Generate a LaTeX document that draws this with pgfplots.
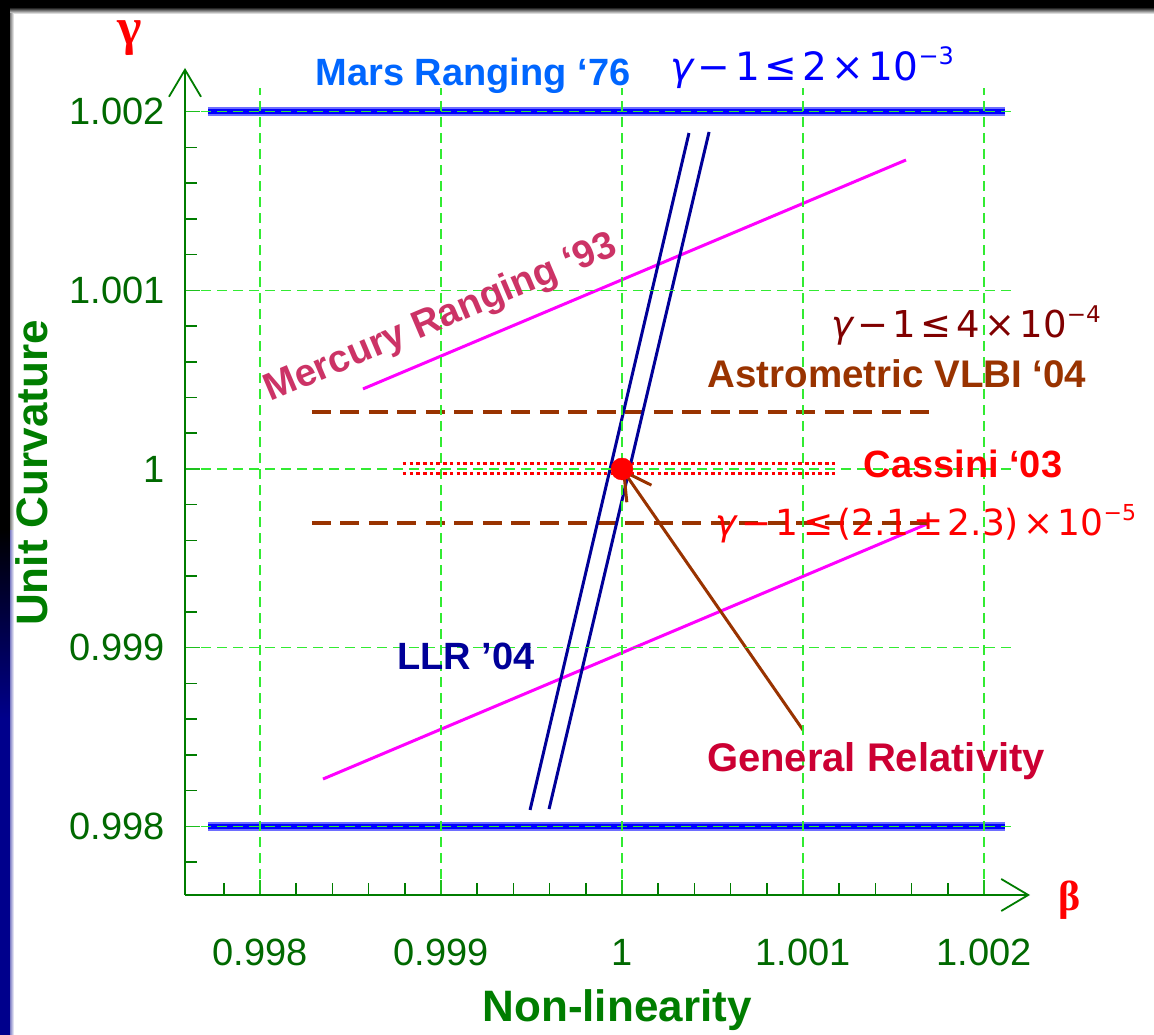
\documentclass[border=0pt]{standalone}
\usepackage{pgfplots}
\pgfplotsset{compat=1.18}
\usetikzlibrary{arrows.meta}
\usepackage{fontspec}
\setmainfont{Liberation Sans}
\newfontfamily\dv{DejaVu Sans}
\newfontfamily\lserif{Liberation Serif}

\definecolor{axgreen}{RGB}{0,125,0}
\definecolor{tickgreen}{RGB}{0,105,0}
\definecolor{gridgreen}{RGB}{50,235,50}
\definecolor{marsblue}{RGB}{0,102,255}
\definecolor{mercpink}{RGB}{204,51,102}
\definecolor{mercmag}{RGB}{255,0,255}
\definecolor{vlbibrown}{RGB}{153,51,0}
\definecolor{darkred}{RGB}{128,0,0}
\definecolor{llrnavy}{RGB}{0,0,153}
\definecolor{grcrimson}{RGB}{204,0,51}
\definecolor{navystrip}{RGB}{0,0,140}
\definecolor{lightblue}{RGB}{110,110,255}

\newcommand{\sep}{\hspace{0.12em}}

\begin{document}
\begin{tikzpicture}[x=1pt,y=1pt]
\path[use as bounding box] (0,0) rectangle (1154,1035);
\fill[white] (0,0) rectangle (1154,1035);
% frame edges
\fill[black] (0,1028) rectangle (1154,1035);
\shade[top color=black,bottom color=white] (0,1021) rectangle (1154,1028);
\fill[black] (0,505) rectangle (10,1035);
\shade[top color=black,bottom color=navystrip] (0,315) rectangle (10,505);
\fill[navystrip] (0,0) rectangle (10,315);
\shade[left color=navystrip!50,right color=white] (10,0) rectangle (14,505);
\shade[left color=black!50,right color=white] (10,505) rectangle (14,1021);

\begin{axis}[
  at={(185pt,140pt)}, anchor=south west, scale only axis,
  width=827pt, height=807pt,
  xmin=0.9975856, xmax=1.0021547, ymin=0.9976161, ymax=1.0021320,
  axis lines=left, axis on top, clip=false,
  axis line style={axgreen, line width=2pt, -{Straight Barb[length=27pt,width=32pt,line width=1.8pt]}},
  x axis line style={shorten >=-18pt},
  y axis line style={shorten >=-20pt},
  xtick={0.998,0.999,1,1.001,1.002}, xticklabels={0.998,0.999,1,1.001,1.002},
  ytick={0.998,0.999,1,1.001,1.002}, yticklabels={0.998,0.999,1,1.001,1.002},
  minor xtick={0.9978,0.9982,0.9984,0.9986,0.9988,0.9992,0.9994,0.9996,0.9998,1.0002,1.0004,1.0006,1.0008,1.0012,1.0014,1.0016,1.0018},
  minor ytick={0.9978,0.9982,0.9984,0.9986,0.9988,0.9992,0.9994,0.9996,0.9998,1.0002,1.0004,1.0006,1.0008,1.0012,1.0014,1.0016,1.0018},
  tick align=inside,
  major tick length=15pt, minor tick length=12pt,
  major tick style={gridgreen!60!axgreen, line width=1.5pt},
  minor tick style={axgreen, line width=1.5pt},
  xmajorgrids, ymajorgrids,
  major grid style={gridgreen, dash pattern=on 10pt off 6pt, line width=1.4pt},
  tick label style={font=\fontsize{38}{40}\selectfont, text=tickgreen},
  xticklabel style={anchor=north, inner sep=0pt, yshift=-44pt},
  yticklabel style={anchor=east, inner sep=0pt, xshift=-20pt},
  /pgf/number format/assume math mode=true,
]
% Mars Ranging '76
\addplot[no marks, lightblue, line width=8.5pt] coordinates {(0.997713,1.002) (1.002116,1.002)};
\addplot[no marks, blue, line width=5.5pt] coordinates {(0.997713,1.002) (1.002116,1.002)};
\addplot[no marks, lightblue, line width=8.5pt] coordinates {(0.997713,0.998) (1.002116,0.998)};
\addplot[no marks, blue, line width=5.5pt] coordinates {(0.997713,0.998) (1.002116,0.998)};
% Mercury Ranging '93
\addplot[no marks, mercmag, line width=3pt] coordinates {(0.998569,1.000448) (1.001569,1.001729)};
\addplot[no marks, mercmag, line width=3pt] coordinates {(0.998348,0.998265) (1.001685,0.999692)};
% Astrometric VLBI '04
\addplot[no marks, vlbibrown, line width=4pt, dash pattern=on 19pt off 9.5pt] coordinates {(0.998287,1.000319) (1.001713,1.000319)};
\addplot[no marks, vlbibrown, line width=4pt, dash pattern=on 19pt off 9.5pt] coordinates {(0.998287,0.999698) (1.001713,0.999698)};
% Cassini '03
\addplot[no marks, red, line width=3.5pt, dash pattern=on 3.5pt off 3.2pt] coordinates {(0.998790,1.0000308) (1.001177,1.0000308)};
\addplot[no marks, red, line width=3.5pt, dash pattern=on 3.5pt off 3.2pt] coordinates {(0.998790,0.999975) (1.001177,0.999975)};
% LLR '04
\addplot[no marks, llrnavy, line width=3pt] coordinates {(0.999492,0.998092) (1.000370,1.001880)};
\addplot[no marks, llrnavy, line width=3pt] coordinates {(0.999597,0.998097) (1.000481,1.001886)};
% General Relativity point
\addplot[only marks, mark=*, mark size=11pt, red, mark options={draw=red, fill=red}] coordinates {(1,1)};
\addplot[no marks, vlbibrown, line width=3pt, -{Straight Barb[length=27pt,width=30pt,line width=3pt]}] coordinates {(1.001,0.998539) (1,1)};
\end{axis}

% axis symbols and labels
\node[text=red, font=\lserif\bfseries\fontsize{52}{54}\selectfont, anchor=center] at (130,997) {γ};
\node[text=red, font=\lserif\bfseries\fontsize{42}{44}\selectfont, anchor=center] at (1070,135) {β};
\node[text=axgreen, font=\bfseries\fontsize{44}{46}\selectfont, anchor=base] at (617,13) {Non-linearity};
\node[text=axgreen, font=\bfseries\fontsize{44}{46}\selectfont, anchor=base, rotate=90] at (47,562) {Unit Curvature};

% annotations
\node[text=marsblue, font=\bfseries\fontsize{38}{40}\selectfont, anchor=base] at (473,949) {Mars Ranging ‘76};
\node[text=blue, font=\dv\fontsize{39}{41}\selectfont, anchor=base] at (812,954)
  {{\itshape γ}\sep−\sep1\sep≤\sep2\sep×\sep10\raisebox{0.42em}{\fontsize{24}{26}\selectfont −3}};
\node[text=mercpink, font=\bfseries\fontsize{38.5}{40}\selectfont, anchor=base, rotate=23] at (445,707) {Mercury Ranging ‘93};
\node[text=darkred, font=\dv\fontsize{37}{39}\selectfont, anchor=base] at (966,697)
  {{\itshape γ}\sep−\sep1\sep≤\sep4\sep×\sep10\raisebox{0.42em}{\fontsize{23}{25}\selectfont −4}};
\node[text=vlbibrown, font=\bfseries\fontsize{38.5}{40}\selectfont, anchor=base] at (897,647) {Astrometric VLBI ‘04};
\node[text=red, font=\bfseries\fontsize{38}{40}\selectfont, anchor=base] at (963,557) {Cassini ‘03};
\node[text=red, font=\dv\fontsize{36}{38}\selectfont, anchor=base] at (926,499)
  {{\itshape γ}\sep−\sep1\sep≤\sep(2.1\sep±\sep2.3)\sep×\sep10\raisebox{0.42em}{\fontsize{22}{24}\selectfont −5}};
\node[text=llrnavy, font=\bfseries\fontsize{38}{40}\selectfont, anchor=base] at (466,365) {LLR ’04};
\node[text=grcrimson, font=\bfseries\fontsize{40}{42}\selectfont, anchor=base] at (876,263) {General Relativity};
\end{tikzpicture}
\end{document}
